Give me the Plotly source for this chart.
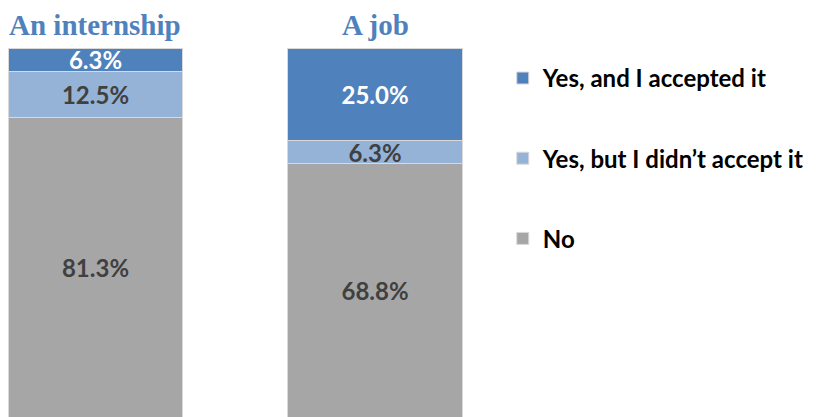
import plotly.graph_objects as go

categories = ["An internship", "A job"]
no_vals = [81.3, 68.8]
yes_declined = [12.5, 6.3]
yes_accepted = [6.3, 25.0]

fig = go.Figure()

fig.add_trace(go.Bar(
    x=categories, y=no_vals, name="No",
    marker=dict(color="#a6a6a6", line=dict(color="#d9d9d9", width=1)),
    textfont=dict(color="#404040"), legendrank=3, legendgroup="no",
))
fig.add_trace(go.Bar(
    x=categories, y=yes_declined, name="Yes, but I didn’t accept it",
    marker=dict(color="#95b3d7", line=dict(color="#d9d9d9", width=1)),
    textfont=dict(color="#404040"), legendrank=2, legendgroup="declined",
))
fig.add_trace(go.Bar(
    x=categories, y=yes_accepted, name="Yes, and I accepted it",
    marker=dict(color="#4f81bd", line=dict(color="#d9d9d9", width=1)),
    textfont=dict(color="white"), legendrank=1, legendgroup="accepted",
))

fig.update_traces(texttemplate="%{y:.1f}%", textposition="inside",
                  insidetextanchor="middle", constraintext="none", width=0.624,
                  textfont_family="Lato", textfont_size=24, textfont_weight="bold")

# bar titles above each column
for cat in categories:
    fig.add_annotation(
        x=cat, y=1, yref="paper", yanchor="middle", yshift=23,
        text=cat, showarrow=False,
        font=dict(family="Liberation Serif", size=29, color="#4f81bd", weight="bold"),
    )

# the page body adds an 8px offset, so margins are trimmed to compensate
fig.update_layout(
    barmode="stack",
    width=826, height=417,
    margin=dict(l=0, r=0, t=40, b=0),
    plot_bgcolor="white", paper_bgcolor="white",
    showlegend=True,
    legend=dict(
        x=0.599, y=0.979, xanchor="left", yanchor="top",
        traceorder="grouped", tracegroupgap=46, itemwidth=30,
        font=dict(family="Lato", size=24, color="black", weight="bold"),
    ),
)

fig.update_xaxes(range=[-0.313, 2.642], visible=False)
fig.update_yaxes(range=[-1.9, 100.1], visible=False)

fig.write_html("out.html")
